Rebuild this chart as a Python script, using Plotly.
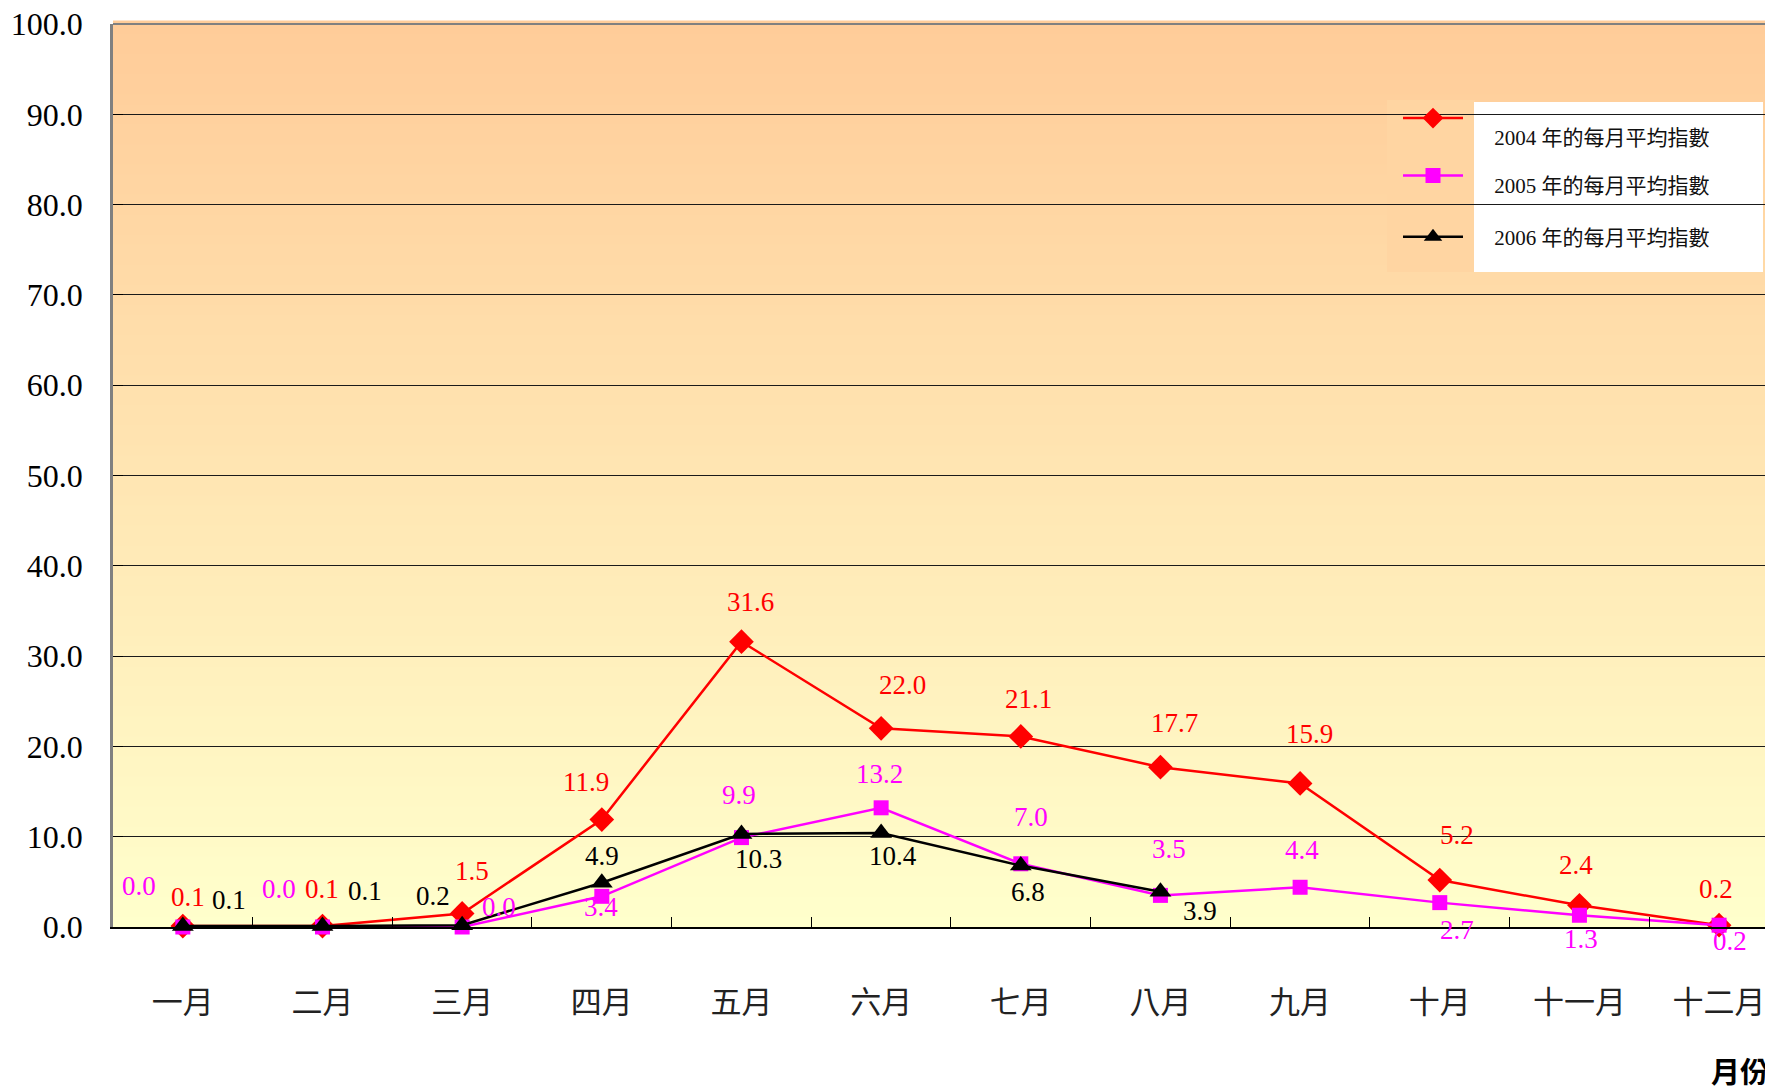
import plotly.graph_objects as go

months = ["一月", "二月", "三月", "四月", "五月", "六月", "七月", "八月", "九月", "十月", "十一月", "十二月"]
series_names = ["2004 年的每月平均指數", "2005 年的每月平均指數", "2006 年的每月平均指數"]
v2004 = [0.1, 0.1, 1.5, 11.9, 31.6, 22.0, 21.1, 17.7, 15.9, 5.2, 2.4, 0.2]
v2005 = [0.0, 0.0, 0.0, 3.4, 9.9, 13.2, 7.0, 3.5, 4.4, 2.7, 1.3, 0.2]
v2006 = [0.1, 0.1, 0.2, 4.9, 10.3, 10.4, 6.8, 3.9]
y_ticks = [0, 10, 20, 30, 40, 50, 60, 70, 80, 90, 100]

# label offsets (pixels) for the data labels, per series
off2004 = [(5, 29), (0, 37), (10, 42), (-16, 38), (9, 40), (21, 43), (8, 37), (14, 44), (9, 49), (17, 45), (-3, 40), (-3, 36)]
off2005 = [(-44, 41), (-43, 38), (37, 20), (-1, -11), (-2, 43), (-2, 34), (10, 47), (9, 46), (2, 37), (17, -27), (2, -24), (11, -16)]
off2006 = [(46, 26), (43, 35), (-29, 29), (0, 27), (17, -25), (12, -23), (7, -26), (40, -19)]

SERIF = "Liberation Serif, Times New Roman, Noto Sans CJK TC, serif"
CJK = "Noto Sans CJK TC, Noto Sans CJK SC, sans-serif"

PAGE_OFF = 8  # default body margin of the html page
W, H = 1773 - PAGE_OFF, 1091 - PAGE_OFF
L, T = 113 - PAGE_OFF, 24 - PAGE_OFF
R = 0
B = H - (927 - PAGE_OFF)
PW, PH = W - L - R, H - T - B

def px_x(p):
    return (p - PAGE_OFF - L) / PW

def px_y(p):
    return (H - B - (p - PAGE_OFF)) / PH

fig = go.Figure()

PAD = "\u00a0" * 5
# (legend id, legend font size, leading blank line, legend top in page px)
legend_specs = [
    ("legend", 16, True, 101.2),
    ("legend2", 10, True, 162.6),
    ("legend3", 21, False, 216.5),
]

styles = [
    (series_names[0], v2004, "#FF0000", "diamond", 19, off2004),
    (series_names[1], v2005, "#FF00FF", "square", 15, off2005),
    (series_names[2], v2006, "#000000", "triangle-up", 19, off2006),
]

for (name, vals, color, sym, msize, offs), (lid, lfs, blank, ltop) in zip(styles, legend_specs):
    label = "<span style='font-size:21px'>" + PAD + name + "</span>"
    if blank:
        label = "<br>" + label
    fig.add_trace(go.Scatter(
        x=months[:len(vals)], y=vals, mode="lines+markers",
        name=label, legend=lid,
        line=dict(color=color, width=2.5),
        marker=dict(symbol=sym, size=msize, color=color, line=dict(width=0)),
        cliponaxis=False,
    ))
    for m, v, (dx, dy) in zip(months, vals, offs):
        fig.add_annotation(
            x=m, y=v, xref="x", yref="y", text=f"{v:.1f}", showarrow=False,
            xshift=dx, yshift=dy,
            font=dict(family=SERIF, size=27, color=color),
        )

# gradient background bands
shapes = []
N = 90
c0 = (255, 204, 153)
c1 = (255, 255, 204)
for k in range(N):
    f = k / (N - 1)
    col = tuple(round(c1[i] + (c0[i] - c1[i]) * f) for i in range(3))
    shapes.append(dict(
        type="rect", xref="x domain", yref="y domain",
        x0=0, x1=1, y0=k / N, y1=(k + 1) / N + 0.004,
        fillcolor="rgb(%d,%d,%d)" % col, line=dict(width=0), layer="below",
    ))

# legend area: symbol strip (background colour) and white text box
shapes.append(dict(type="rect", xref="paper", yref="paper",
                   x0=px_x(1387), x1=px_x(1475), y0=px_y(272), y1=px_y(100),
                   fillcolor="rgb(255,213,162)", line=dict(width=0), layer="between"))
shapes.append(dict(type="rect", xref="paper", yref="paper",
                   x0=px_x(1474), x1=px_x(1763), y0=px_y(272), y1=px_y(102),
                   fillcolor="#FFFFFF", line=dict(width=0), layer="between"))
# top frame line
shapes.append(dict(type="line", xref="paper", yref="paper",
                   x0=0, x1=1, y0=1, y1=1, line=dict(color="#808080", width=2)))

legend_layouts = {}
for lid, lfs, blank, ltop in legend_specs:
    legend_layouts[lid] = dict(
        x=px_x(1398), y=px_y(ltop), xanchor="left", yanchor="top",
        bgcolor="rgba(0,0,0,0)", borderwidth=0,
        font=dict(family=SERIF, size=lfs, color="#111111"),
        itemwidth=60, valign="top",
    )

fig.update_layout(
    width=W, height=H,
    margin=dict(l=L, r=R, t=T, b=B, autoexpand=False),
    paper_bgcolor="white",
    plot_bgcolor="rgb(255,230,178)",
    shapes=shapes,
    showlegend=True,
    **legend_layouts,
    xaxis=dict(
        type="category", categoryorder="array", categoryarray=months,
        range=[-0.5, 11.386], automargin=False,
        showgrid=False, zeroline=False,
        showline=True, linecolor="#000000", linewidth=2,
        ticks="inside", tickson="boundaries", ticklen=10, tickcolor="#000000", tickwidth=1,
        tickfont=dict(family=CJK, size=31, color="#222222"),
        ticklabelstandoff=47,
    ),
    yaxis=dict(
        range=[0, 100], tickvals=y_ticks, tickformat=".1f", automargin=False,
        showgrid=True, gridcolor="#1a1a1a", gridwidth=1,
        zeroline=False,
        showline=True, linecolor="#808080", linewidth=2.5,
        ticks="inside", ticklen=10, tickcolor="#000000", tickwidth=1,
        tickfont=dict(family=SERIF, size=32, color="#000000"),
        ticklabelstandoff=21, ticklabeloverflow="allow",
    ),
)

fig.add_annotation(
    x=px_x(1771), y=px_y(1070), xref="paper", yref="paper",
    text="<b>月份</b>", showarrow=False, xanchor="right", yanchor="middle",
    font=dict(family=CJK, size=29, color="#000000"),
)

fig.write_html("out.html")
